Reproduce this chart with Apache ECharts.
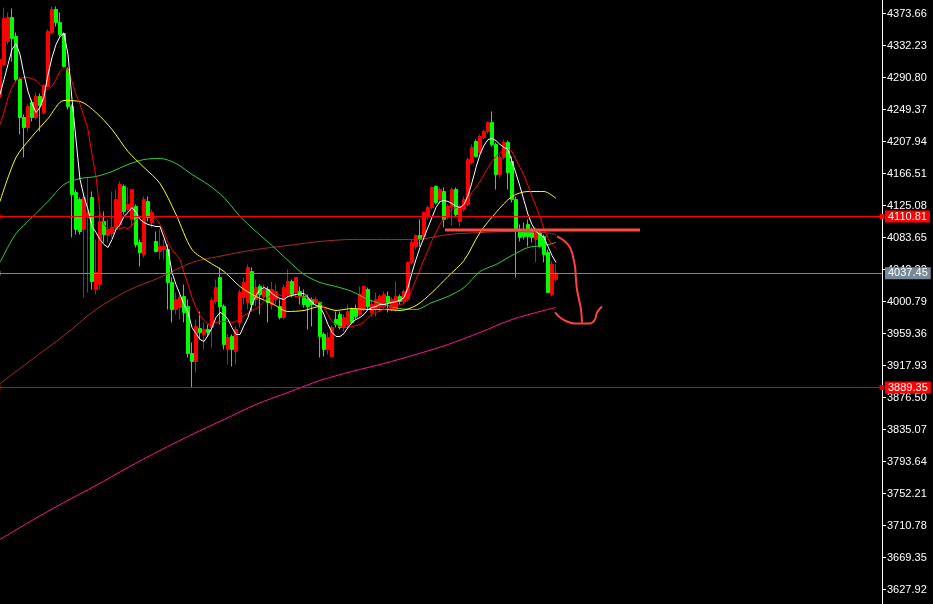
<!DOCTYPE html>
<html><head><meta charset="utf-8">
<style>html,body{margin:0;padding:0;background:#000;}#c{width:933px;height:604px;}</style>
<script src="https://cdn.jsdelivr.net/npm/echarts/dist/echarts.min.js"></script>
</head><body><div id="c"></div>
<script>
// ---- candle data (price units) ----
const opens = [
4266.2,4307.6,4337.4,4368.5,4343.9,4288.2,4239.0,4226.1,4258.4,4239.0,
4266.2,4245.5,4279.2,4349.1,4378.9,4362.0,4347.8,4301.2,4253.3,4141.9,
4132.9,4094.0,4109.6,4135.4,4016.3,4022.8,4104.4,4086.3,4088.8,4096.6,
4100.5,4149.7,4119.9,4107.0,4123.8,4077.2,4061.7,4130.3,4103.1,4078.5,
4065.5,4068.1,4068.1,4025.4,3990.4,3993.0,4007.3,3994.3,3933.5,3923.1,
3965.8,3958.1,3964.6,3967.1,4000.8,4031.9,3994.3,3938.7,3955.5,3936.1,
3973.6,4006.0,3999.5,4039.6,4003.4,4020.2,4007.3,4016.3,3996.9,4003.4,
3994.3,3980.1,4009.9,4026.7,4012.4,4013.8,4007.3,4003.4,4003.4,3999.5,
3999.5,3958.1,3938.7,3929.6,3977.5,3984.0,3967.1,3971.0,3990.4,3990.4,
3984.0,3990.4,4016.3,3986.6,3990.4,3993.0,3994.3,4007.3,3990.4,3990.4,
4007.3,4000.8,4003.4,4051.3,4072.0,4086.3,4085.0,4110.9,4122.5,4149.7,
4132.9,4143.2,4109.6,4123.8,4145.8,4104.4,4119.9,4126.4,4180.8,4208.0,
4193.7,4213.1,4220.9,4232.6,4204.1,4165.2,4187.2,4206.7,4182.1,4132.9,
4094.0,4091.4,4100.5,4091.4,4081.1,4090.1,4085.0,4064.2,4009.9,4029.3];
const closes = [
4314.1,4367.2,4368.5,4341.3,4288.2,4239.0,4226.1,4253.3,4239.0,4266.2,
4254.6,4280.5,4350.4,4378.9,4362.0,4346.5,4305.1,4253.3,4139.3,4094.0,
4091.4,4135.4,4116.0,4026.7,4038.4,4104.4,4087.5,4094.0,4096.6,4132.9,
4152.3,4117.3,4126.4,4145.8,4074.6,4064.2,4132.9,4109.6,4116.0,4065.5,
4072.0,4072.0,4025.4,3990.4,4003.4,4006.0,3986.6,3933.5,3923.1,3968.4,
3960.7,3964.6,3960.7,4002.1,4018.9,3994.3,3945.1,3954.2,3938.7,3964.6,
4012.4,4025.4,4044.8,3996.9,4018.9,4009.9,4016.3,3999.5,4016.3,4013.8,
3980.1,4018.9,4026.7,4009.9,4031.9,4007.3,3996.9,3994.3,3996.9,4003.4,
3955.5,3938.7,3954.2,3967.1,3971.0,3967.1,3980.1,3987.9,3973.6,3981.4,
4009.9,4020.2,3994.3,3996.9,4003.4,4007.3,4009.9,3999.5,4003.4,4007.3,
4000.8,4013.8,4051.3,4077.2,4086.3,4081.1,4116.0,4122.5,4148.4,4129.0,
4145.8,4107.0,4123.8,4145.8,4113.4,4123.8,4132.9,4184.6,4200.2,4188.5,
4214.4,4220.9,4232.6,4204.1,4165.2,4187.2,4206.7,4167.8,4132.9,4094.0,
4083.7,4085.0,4085.0,4083.7,4094.0,4072.0,4061.7,4012.4,4048.7,4037.45];
const lows = [
4262.3,4305.1,4333.5,4311.5,4284.3,4217.0,4187.2,4220.9,4233.9,4236.4,
4220.9,4242.9,4277.9,4346.5,4356.8,4343.9,4303.8,4249.4,4083.7,4087.5,
4087.5,4006.0,4012.4,4016.3,4009.9,4016.3,4077.2,4077.2,4083.7,4091.4,
4096.6,4113.4,4117.3,4097.9,4070.7,4046.1,4057.8,4104.4,4096.6,4064.2,
4055.2,4055.2,3990.4,3973.6,3984.0,3977.5,3973.6,3928.3,3889.35,3908.9,
3951.6,3938.7,3955.5,3941.2,3996.9,3971.0,3938.7,3919.2,3916.6,3919.2,
3967.1,3996.9,3990.4,3987.9,3994.3,3984.0,4003.4,3973.6,3990.4,3996.9,
3977.5,3977.5,4006.0,4006.0,4006.0,3996.9,3993.0,3964.6,3968.4,3995.6,
3928.3,3929.6,3932.2,3928.3,3967.1,3964.6,3962.0,3967.1,3971.0,3977.5,
3981.4,3987.9,3990.4,3981.4,3981.4,3986.6,3990.4,3986.6,3987.9,3987.9,
3996.9,3996.9,4000.8,4048.7,4068.1,4072.0,4081.1,4107.0,4119.9,4126.4,
4127.7,4096.6,4107.0,4099.2,4109.6,4097.9,4117.3,4123.8,4178.2,4187.2,
4191.1,4210.5,4218.3,4201.5,4145.8,4161.3,4184.6,4145.8,4129.0,4031.9,
4078.5,4081.1,4072.0,4077.2,4051.3,4070.7,4051.3,4012.4,4007.3,4026.7];
const highs = [
4318.0,4381.4,4375.0,4380.2,4349.1,4290.8,4242.9,4255.9,4262.3,4271.4,
4270.1,4281.8,4353.0,4382.7,4382.7,4375.0,4349.1,4303.8,4255.9,4145.8,
4135.4,4139.3,4161.3,4143.2,4081.1,4117.3,4117.3,4107.0,4143.2,4145.8,
4156.2,4152.3,4148.4,4145.8,4126.4,4081.1,4136.7,4136.7,4119.9,4091.4,
4094.0,4081.1,4074.6,4031.9,4012.4,4009.9,4022.8,4003.4,3947.7,3977.5,
3987.9,3973.6,3971.0,4006.0,4029.3,4044.8,3996.9,3958.1,3958.1,3968.4,
4016.3,4031.9,4048.7,4044.8,4029.3,4022.8,4022.8,4020.2,4026.7,4022.8,
4003.4,4022.8,4042.2,4029.3,4031.9,4020.2,4016.3,4009.9,4006.0,4007.3,
4000.8,3960.7,3960.7,3969.7,3987.9,3987.9,3984.0,3996.9,3993.0,3996.9,
4020.2,4021.5,4018.9,4003.4,4012.4,4009.9,4013.8,4013.8,4006.0,4026.7,
4009.9,4016.3,4052.6,4081.1,4087.5,4107.0,4117.3,4125.1,4149.7,4151.0,
4148.4,4148.4,4126.4,4148.4,4148.4,4126.4,4136.7,4187.2,4204.1,4210.5,
4217.0,4223.5,4233.9,4246.8,4206.7,4191.1,4210.5,4209.2,4188.5,4136.7,
4100.5,4103.1,4107.0,4096.6,4096.6,4094.0,4087.5,4068.1,4052.6,4048.7];

// ---- moving averages ----
const maWhite = [
4268.8,4288.2,4307.6,4327.1,4334.8,4320.6,4294.7,4272.7,4257.2,4245.5,
4252.0,4266.2,4294.7,4316.7,4333.5,4343.9,4347.8,4320.6,4262.3,4210.5,
4158.8,4136.7,4119.9,4097.9,4090.1,4081.1,4074.6,4070.7,4081.1,4094.0,
4100.5,4110.9,4116.0,4122.5,4116.0,4107.0,4103.1,4100.5,4099.2,4097.9,
4097.9,4083.7,4068.1,4038.4,4022.8,4009.9,3996.9,3986.6,3967.1,3959.4,
3951.6,3949.0,3956.8,3967.1,3980.1,3986.6,3984.0,3977.5,3967.1,3958.1,
3958.1,3969.7,3980.1,3996.9,4008.6,4016.3,4018.9,4016.3,4011.2,4007.3,
4004.7,4003.4,4007.3,4008.6,4009.9,4011.2,4011.2,4006.0,3999.5,3995.6,
3994.3,3984.0,3971.0,3960.7,3955.5,3955.5,3959.4,3967.1,3973.6,3977.5,
3980.1,3984.0,3990.4,3993.0,3994.3,3996.9,3996.9,3998.2,3999.5,4000.8,
4002.1,4006.0,4018.9,4038.4,4055.2,4070.7,4083.7,4096.6,4109.6,4122.5,
4130.3,4131.6,4130.3,4127.7,4123.8,4122.5,4126.4,4138.0,4154.9,4174.3,
4191.1,4202.8,4210.5,4211.8,4209.2,4204.1,4200.2,4197.6,4182.1,4166.5,
4149.7,4131.6,4113.4,4100.5,4091.4,4087.5,4083.7,4072.0,4060.4,4051.3];
const maRed = [
4230.0,4245.5,4264.9,4277.9,4286.9,4289.5,4290.8,4290.8,4289.5,4286.9,
4281.8,4276.6,4275.3,4279.2,4288.2,4298.6,4303.8,4301.2,4285.6,4268.8,
4255.9,4240.3,4223.5,4191.1,4162.6,4116.0,4100.5,4094.0,4091.4,4094.0,
4095.3,4096.6,4095.3,4099.2,4107.0,4109.6,4110.9,4110.9,4110.9,4108.3,
4100.5,4090.1,4077.2,4068.1,4061.7,4055.2,4038.4,4022.8,4006.0,3993.0,
3982.7,3976.2,3971.0,3972.3,3973.6,3974.9,3974.9,3974.9,3973.6,3974.9,
3978.8,3982.7,3985.3,3989.2,3991.7,3995.6,4000.8,4006.0,4009.9,4012.4,
4008.6,4007.3,4009.9,4008.6,4007.3,4007.3,4006.0,4006.0,4003.4,4000.8,
3999.5,3993.0,3984.0,3974.9,3971.0,3968.4,3967.1,3967.1,3968.4,3969.7,
3971.0,3974.9,3980.1,3984.0,3986.6,3989.2,3990.4,3991.7,3994.3,3995.6,
3996.9,3998.2,4003.4,4016.3,4029.3,4042.2,4055.2,4066.8,4079.8,4090.1,
4100.5,4108.3,4114.7,4119.9,4122.5,4122.5,4125.1,4132.9,4141.9,4148.4,
4156.2,4165.2,4174.3,4182.1,4188.5,4193.7,4196.3,4197.6,4195.0,4184.6,
4174.3,4163.9,4151.0,4136.7,4123.8,4110.9,4094.0,4082.4,4074.6,4069.4];
const idx4 = [0,4,8,12,16,20,24,28,32,36,40,44,48,52,56,60,64,68,72,76,80,84,88,92,96,100,104,108,112,116,120,124,128,132,136,139];
const maYellow = [4130.3,4187.2,4214.4,4237.7,4261.0,4259.7,4245.5,4223.5,4195.0,4174.3,4153.6,4113.4,4068.1,4052.6,4039.6,4020.2,4007.3,3998.2,3987.9,3989.2,3994.3,3989.2,3991.7,3990.4,3990.4,3989.2,3995.6,4012.4,4033.2,4053.9,4090.1,4116.0,4136.7,4143.2,4143.2,4134.2];
const maGreen = [4051.3,4088.8,4109.6,4130.3,4152.3,4160.0,4162.6,4169.1,4178.2,4184.6,4185.9,4179.5,4165.2,4152.3,4135.4,4110.9,4091.4,4073.3,4053.9,4035.8,4025.4,4020.2,4013.8,4003.4,3996.9,3991.7,3990.4,3999.5,4007.3,4018.9,4039.6,4048.7,4060.4,4070.7,4073.3,4077.2];
const idx8 = [0,8,16,24,32,40,48,56,64,72,80,88,96,104,112,120,128,136,139];
const maBrown = [3894.6,3925.7,3956.8,3990.4,4015.0,4031.9,4051.3,4060.4,4068.1,4073.3,4078.5,4081.1,4081.1,4081.1,4087.5,4090.1,4091.4,4090.1,4087.5];
const maPink = [3692.7,3717.3,3740.6,3762.6,3785.9,3807.9,3828.6,3848.0,3867.5,3883.0,3898.5,3910.2,3920.5,3932.2,3945.1,3960.7,3977.5,3989.2,3993.0];

// ---- levels and tick labels ----
const resistance = 4110.81, lowLevel = 3889.35, lastPrice = 4037.45;
const axisMin = 3586.49, axisMax = 4415.09, tickStep = 41.43;

// ---- hand-drawn annotation (x in bar units, y in price) ----
const zoneX = [111.25, 160], zoneY = [4093.4, 4093.4];
const arrowX = [139.25,141.25,142.5,143.25,143.75,144,144.25,144.75,145.25,145.5];
const arrowY = [4085.0,4078.5,4070.7,4059.1,4046.1,4029.3,4016.3,4003.4,3990.4,3973.6];
const hookX = [138.75,140,141.75,143.75,145.5,147.5,148.75,149.25,150.5];
const hookY = [3986.6,3980.1,3974.9,3972.3,3972.3,3972.3,3977.5,3986.6,3994.3];

const SLOTS = 221;
const cats = Array.from({length: SLOTS}, (_, i) => String(i));
const candleData = opens.map((o, i) => [o, closes[i], lows[i], highs[i]]);
const pairs = (xs, ys) => xs.map((x, i) => [x, ys[i]]);
const FONT = 'Liberation Sans';

function lineS(name, data, color, extra) {
  return Object.assign({
    name, type: 'line', data, symbol: 'none', silent: true,
    lineStyle: {color, width: 1}, z: 3, animation: false
  }, extra || {});
}
function tag(value, bg, lineColor, withSym) {
  return {
    yAxis: value,
    symbol: withSym ? ['none', 'rect'] : ['none', 'none'], symbolSize: 5,
    lineStyle: {color: lineColor, width: 1, type: 'solid'},
    label: {show: true, position: 'end', distance: 3, formatter: () => value.toFixed(2),
      color: '#fff', backgroundColor: bg, padding: [1, 3, 0, 3], fontFamily: FONT, fontSize: 11}
  };
}

const chart = echarts.init(document.getElementById('c'));
chart.setOption({
  backgroundColor: '#000',
  animation: false,
  grid: {left: -2, right: 51, top: -18.5, bottom: -17.5, containLabel: false, outerBoundsMode: 'none'},
  xAxis: [
    {type: 'category', data: cats, show: false, boundaryGap: true},
    {type: 'value', min: -0.5, max: SLOTS - 0.5, show: false}
  ],
  yAxis: {
    type: 'value', position: 'right', min: axisMin, max: axisMax, interval: tickStep,
    axisLine: {show: true, onZero: false, lineStyle: {color: '#fff', width: 1}},
    axisTick: {show: true, length: 4, lineStyle: {color: '#fff'}},
    axisLabel: {color: '#fff', fontFamily: FONT, fontSize: 11, margin: 5, formatter: v => v.toFixed(2)},
    splitLine: {show: false}
  },
  series: [
    lineS('pink', pairs(idx8, maPink), '#ff1493', {smooth: 0.3}),
    lineS('brown', pairs(idx8, maBrown), '#a52a2a', {smooth: 0.3,
      markLine: {silent: true, animation: false, symbol: ['none', 'none'],
        data: [tag(lastPrice, '#778899', '#778899', false)]}}),
    {
      type: 'candlestick', data: candleData, barWidth: 3, z: 2, silent: true,
      itemStyle: {color: '#ff0000', color0: '#00ff00', borderColor: '#ff0000', borderColor0: '#00ff00', borderWidth: 1},
      markLine: {silent: true, animation: false, symbol: ['none', 'rect'], symbolSize: 5,
        data: [tag(resistance, '#ff0000', '#ff0000', true), tag(lowLevel, '#ff0000', '#e00000', true)]}
    },
    lineS('green', pairs(idx4, maGreen), '#32cd32', {smooth: 0.3}),
    lineS('yellow', pairs(idx4, maYellow), '#ffff00', {smooth: 0.3}),
    lineS('red', maRed, '#ff0000'),
    lineS('white', maWhite, '#ffffff'),
    lineS('zone', pairs(zoneX, zoneY), '#ff4848', {xAxisIndex: 1, lineStyle: {color: '#ff4848', width: 3}, z: 5}),
    lineS('arrow', pairs(arrowX, arrowY), '#ff4040', {xAxisIndex: 1, smooth: 0.4, lineStyle: {color: '#ff4040', width: 2}, z: 5}),
    lineS('hook', pairs(hookX, hookY), '#ff4040', {xAxisIndex: 1, smooth: 0.4, lineStyle: {color: '#ff4040', width: 2}, z: 5})
  ]
});
</script>
</body></html>
